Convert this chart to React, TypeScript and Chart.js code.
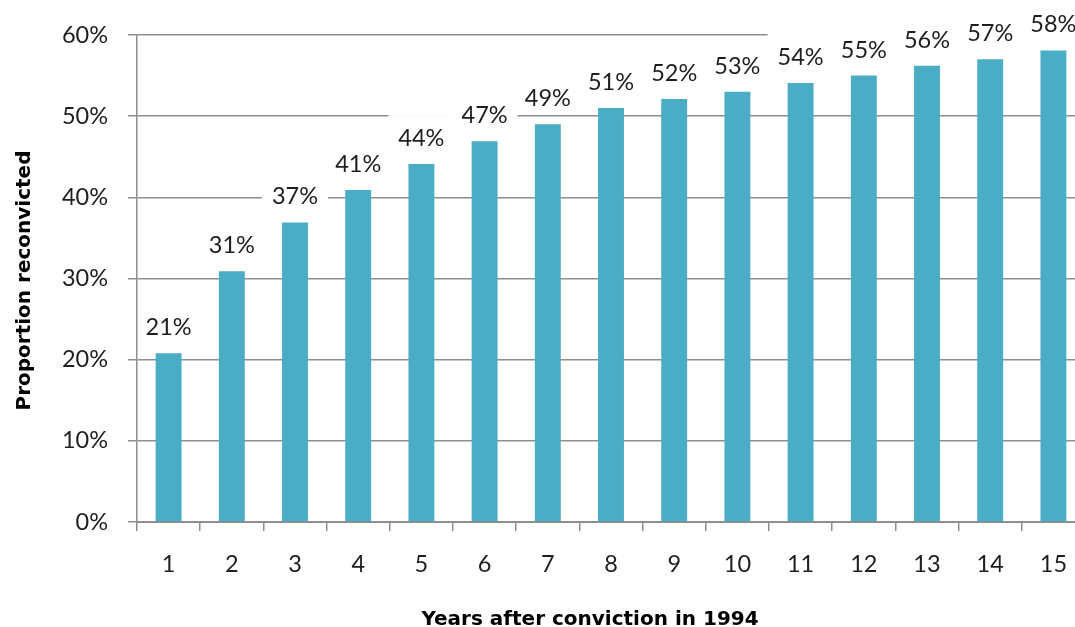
import React, { useEffect, useRef } from "react";
import { Chart, registerables } from "chart.js";

Chart.register(...registerables);

const categories = ["1", "2", "3", "4", "5", "6", "7", "8", "9", "10", "11", "12", "13", "14", "15"];
const reconvicted = [20.8, 30.9, 36.9, 40.9, 44.1, 46.9, 49.0, 51.0, 52.1, 53.0, 54.1, 55.0, 56.2, 57.0, 58.1];
const yMax = 60;
const yStep = 10;
const xTitle = "Years after conviction in 1994";
const yTitle = "Proportion reconvicted";

const BAR = "#4BACC6";
const GRAY = "#8e8e8e";
const TEXT = "#1e1e1e";
const FONT = "Lato";
const TITLE_FONT = "'DejaVu Sans'";

const labelPlugin = {
  id: "labelsAndTitles",
  afterDatasetsDraw(chart: any) {
    const ctx = chart.ctx;
    const area = chart.chartArea;
    const meta = chart.getDatasetMeta(0);
    const data = chart.data.datasets[0].data as number[];
    ctx.save();
    ctx.font = `23.5px ${FONT}`;
    ctx.textAlign = "center";
    ctx.textBaseline = "alphabetic";
    meta.data.forEach((bar: any, i: number) => {
      const txt = Math.round(data[i]) + "%";
      const w = ctx.measureText(txt).width;
      const base = bar.y - 18;
      const left = Math.max(bar.x - w / 2 - 10, area.left + 1.5);
      const right = bar.x + w / 2 + 10;
      ctx.fillStyle = "#ffffff";
      ctx.fillRect(left, base - 17 - 14, right - left, 17 + 14 + 6);
      ctx.fillStyle = TEXT;
      ctx.fillText(txt, bar.x, base);
    });
    ctx.restore();
  },
  afterDraw(chart: any) {
    const ctx = chart.ctx;
    const area = chart.chartArea;
    ctx.save();
    ctx.fillStyle = "#000";
    ctx.font = `bold 20px ${TITLE_FONT}`;
    ctx.textAlign = "center";
    ctx.textBaseline = "alphabetic";
    ctx.fillText(xTitle, (area.left + area.right) / 2 - 21, chart.height - 2);
    ctx.translate(30, (area.top + area.bottom) / 2 + 2);
    ctx.rotate(-Math.PI / 2);
    ctx.fillText(yTitle, 0, 0);
    ctx.restore();
  },
};

export default function App() {
  const ref = useRef<HTMLCanvasElement>(null);
  useEffect(() => {
    if (!ref.current) return;
    const chart = new Chart(ref.current, {
      type: "bar",
      data: {
        labels: categories,
        datasets: [
          {
            data: reconvicted,
            backgroundColor: BAR,
            borderWidth: 0,
            barPercentage: 0.41,
            categoryPercentage: 1,
          },
        ],
      },
      options: {
        animation: false,
        responsive: false,
        devicePixelRatio: 1,
        layout: { padding: { top: 35, right: 10, left: 0, bottom: 0 } },
        plugins: { legend: { display: false }, tooltip: { enabled: false } },
        scales: {
          x: {
            grid: {
              display: true,
              drawOnChartArea: false,
              drawTicks: true,
              tickLength: 9,
              color: GRAY,
              lineWidth: 1.5,
              offset: true,
            },
            border: { display: true, color: GRAY, width: 2 },
            ticks: { font: { family: FONT, size: 23.5 }, color: TEXT, padding: 19 },
            afterFit: (s: any) => {
              s.height = 105;
            },
          },
          y: {
            min: 0,
            max: yMax,
            ticks: {
              stepSize: yStep,
              callback: (v: any) => v + "%",
              padding: 20,
              font: { family: FONT, size: 23.5 },
              color: TEXT,
            },
            grid: { color: GRAY, lineWidth: 1.5, tickLength: 9, drawTicks: true },
            border: { display: true, color: GRAY, width: 1.5 },
            afterFit: (s: any) => {
              s.width = 137;
            },
          },
        },
      },
      plugins: [labelPlugin],
    });
    return () => chart.destroy();
  }, []);
  return (
    <div
      style={{
        position: "fixed",
        left: 0,
        top: 0,
        width: 1075,
        height: 627,
        overflow: "hidden",
        background: "#fff",
      }}
    >
      <canvas ref={ref} width={1095} height={627} style={{ width: 1095, height: 627, display: "block" }} />
    </div>
  );
}
